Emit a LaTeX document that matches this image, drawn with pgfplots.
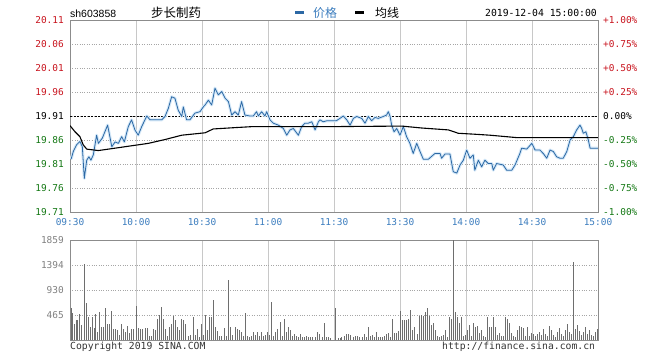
\documentclass[border=0pt]{standalone}
\usepackage{pgfplots}
\usepackage{pgfplotstable}
\pgfplotsset{compat=1.18}
\usepackage{fontspec}
\setmainfont{Liberation Sans}
\setmonofont{DejaVu Sans Mono}
\newfontfamily\cjk{Noto Sans CJK SC}
\definecolor{pblue}{RGB}{44,104,164}
\definecolor{halo}{RGB}{212,232,248}
\definecolor{lred}{RGB}{200,20,30}
\definecolor{lgreen}{RGB}{20,120,20}
\definecolor{tblue}{RGB}{60,125,190}
\definecolor{framec}{RGB}{140,140,140}
\definecolor{gridc}{RGB}{200,200,200}
\definecolor{volc}{RGB}{110,110,110}

\pgfplotstableread{
m p
0.5 19.820
1.5 19.836
3.0 19.850
4.5 19.857
5.6 19.846
6.5 19.780
7.6 19.818
8.6 19.825
9.5 19.818
10.6 19.829
12.1 19.870
12.9 19.853
14.7 19.864
17.1 19.891
19.0 19.846
20.5 19.856
22.0 19.853
23.5 19.867
24.7 19.856
26.5 19.888
28.0 19.902
29.5 19.881
31.0 19.870
32.6 19.888
34.9 19.910
36.4 19.902
38.6 19.902
41.7 19.902
43.2 19.909
44.7 19.926
46.2 19.950
47.7 19.947
49.2 19.922
50.8 19.909
51.5 19.929
53.0 19.902
54.5 19.902
56.8 19.916
59.1 19.919
60.6 19.929
61.4 19.933
62.9 19.943
64.4 19.933
65.9 19.968
67.4 19.954
69.0 19.961
70.5 19.947
72.0 19.940
73.5 19.912
75.0 19.919
76.5 19.912
78.0 19.940
79.5 19.912
81.8 19.910
83.3 19.910
84.8 19.919
85.6 19.910
87.1 19.919
88.6 19.910
89.4 19.919
90.9 19.902
92.4 19.895
94.7 19.891
97.0 19.884
98.5 19.870
100.0 19.881
101.5 19.884
103.8 19.870
105.3 19.888
106.8 19.895
108.3 19.895
109.9 19.898
111.4 19.881
112.9 19.898
113.6 19.902
115.1 19.898
116.7 19.900
119.0 19.900
121.0 19.900
122.7 19.905
124.2 19.910
125.8 19.902
127.3 19.891
128.8 19.905
130.3 19.909
132.6 19.905
134.1 19.895
135.6 19.909
137.1 19.900
138.6 19.907
140.1 19.905
142.4 19.909
143.9 19.912
144.7 19.919
145.5 19.909
146.2 19.891
147.3 19.877
148.5 19.884
150.0 19.870
151.5 19.888
153.0 19.867
154.5 19.853
156.0 19.832
157.6 19.853
159.1 19.836
160.6 19.820
162.9 19.820
165.9 19.832
168.2 19.832
168.9 19.822
170.5 19.831
172.7 19.831
174.2 19.794
175.8 19.791
177.3 19.808
178.8 19.818
180.3 19.839
181.8 19.822
183.3 19.829
184.0 19.797
185.6 19.818
187.1 19.804
188.6 19.818
190.1 19.811
191.7 19.811
192.4 19.797
193.9 19.811
196.9 19.808
198.5 19.797
200.8 19.797
202.3 19.808
204.5 19.832
205.3 19.843
207.6 19.841
209.9 19.853
211.4 19.839
213.6 19.839
215.1 19.832
216.7 19.822
218.2 19.839
219.7 19.836
221.2 19.825
222.7 19.822
224.2 19.822
225.8 19.836
227.3 19.860
228.8 19.867
230.3 19.881
231.8 19.891
232.6 19.884
233.3 19.874
234.5 19.877
235.6 19.860
236.4 19.843
240.0 19.843
}\price

\pgfplotstableread{
m a
0 19.890
2.3 19.877
4.5 19.867
6.0 19.850
7.6 19.841
12.9 19.838
20.5 19.843
35.6 19.853
43.2 19.861
50.8 19.870
61.4 19.875
65.1 19.883
75.8 19.886
83.3 19.888
122.7 19.888
150.8 19.889
159.8 19.885
172.0 19.881
176.5 19.874
184.1 19.872
190.9 19.870
203.0 19.865
224.2 19.865
240.0 19.865
}\avg

\pgfplotstableread{
m v
0.5 589
1.1 508
2.0 291
2.7 372
3.5 372
4.4 477
5.3 279
6.5 1407
7.4 682
8.3 422
9.2 248
10.2 422
11.1 229
11.7 484
12.6 155
13.5 527
14.4 236
15.3 236
16.2 589
17.1 298
18.0 298
18.9 539
19.8 198
20.8 198
21.7 186
22.4 93
23.2 291
24.1 198
25.0 155
26.1 260
27.0 124
28.0 205
28.9 198
30.2 626
31.1 217
32.0 205
33.0 198
34.1 229
35.0 229
35.9 74
36.8 74
38.0 198
38.9 186
39.8 384
40.8 459
41.7 608
42.6 384
43.5 198
44.4 74
45.3 236
46.2 291
47.1 446
48.0 372
48.9 236
49.8 186
50.8 384
51.7 372
52.6 291
53.8 74
54.7 87
55.9 422
56.8 87
57.7 198
58.6 62
59.5 298
60.5 87
61.4 465
62.3 186
63.2 422
64.1 422
65.3 744
66.2 248
67.1 167
68.0 74
68.9 74
70.2 229
71.1 74
72.0 1116
72.9 248
73.8 87
75.0 236
75.9 198
76.8 186
77.7 149
78.6 74
79.5 508
80.5 74
81.4 50
82.3 74
83.2 155
84.1 87
85.0 155
85.9 74
86.8 155
87.7 74
88.6 87
89.5 149
90.5 87
91.7 713
92.6 74
93.5 149
94.4 198
95.6 341
96.5 74
97.4 384
98.3 155
99.2 236
100.2 186
101.1 74
102.0 112
102.9 74
103.8 50
104.7 112
105.6 62
106.5 50
107.4 74
108.3 62
109.2 62
110.2 50
111.4 62
112.3 155
113.5 112
114.7 62
115.6 310
116.5 62
117.4 50
118.3 31
120.5 589
122.0 31
122.7 31
123.5 62
124.5 74
125.5 112
126.5 112
127.6 93
128.8 50
129.7 74
130.6 74
131.5 50
132.7 62
133.6 112
134.8 50
135.8 248
136.7 74
137.6 93
138.5 50
139.4 155
140.3 62
141.2 50
142.1 50
143.0 74
143.9 112
144.8 136
145.8 62
146.7 384
147.6 124
148.5 136
149.4 174
150.3 546
151.2 372
152.1 372
153.0 372
153.9 384
154.9 558
155.8 186
156.7 248
157.9 112
158.8 446
159.7 465
160.6 446
161.5 527
162.4 589
163.3 446
164.2 279
165.2 322
166.1 186
167.0 74
167.9 62
168.8 74
169.7 93
170.6 186
171.5 62
172.4 422
173.3 384
174.4 1859
175.3 527
176.2 422
177.1 322
178.0 422
178.9 74
179.8 87
180.8 186
181.7 279
182.6 74
183.5 322
184.4 236
185.3 260
186.2 124
187.1 186
188.0 74
188.9 62
189.8 422
190.7 248
191.7 248
192.6 434
193.5 248
194.4 93
195.3 136
196.2 74
197.1 74
198.0 421
198.9 384
199.8 322
200.8 136
201.7 74
202.6 62
203.5 186
204.4 260
205.3 248
206.2 217
207.1 74
208.0 236
208.9 74
209.8 136
210.8 112
211.7 74
212.6 112
213.5 150
214.4 90
215.3 200
216.2 120
217.1 74
218.0 260
218.9 180
219.8 100
220.8 62
221.7 150
222.6 230
223.5 110
224.4 74
225.3 186
226.2 300
227.1 150
228.0 120
229.0 1457
229.9 200
230.8 280
231.7 160
232.6 90
233.5 140
234.4 250
235.3 120
236.2 180
237.1 100
238.0 74
238.9 150
239.8 200
}\vol

\begin{document}
\begin{tikzpicture}[x=1bp,y=1bp]
\path[use as bounding box] (0,0) rectangle (660,360);
% price axis
\begin{axis}[at={(70bp,148bp)}, anchor=south west, width=528bp, height=192bp, scale only axis,
  xmin=0, xmax=240, ymin=19.71, ymax=20.11,
  xtick={0,30,60,90,120,150,180,210,240},
  xticklabels={09:30,10:00,10:30,11:00,11:30,13:30,14:00,14:30,15:00},
  ytick={19.71,19.76,19.81,19.86,19.91,19.96,20.01,20.06,20.11},
  yticklabels={\textcolor{lgreen}{19.71},\textcolor{lgreen}{19.76},\textcolor{lgreen}{19.81},\textcolor{lgreen}{19.86},\textcolor{black}{19.91},\textcolor{lred}{19.96},\textcolor{lred}{20.01},\textcolor{lred}{20.06},\textcolor{lred}{20.11}},
  major tick length=0pt,
  ticklabel style={font=\ttfamily\fontsize{9.5}{10}\selectfont, inner sep=0pt},
  xticklabel style={tblue, yshift=-6bp},
  yticklabel style={xshift=-6bp},
  xmajorgrids, ymajorgrids,
  x grid style={gridc, line width=0.6bp},
  y grid style={gray!70, dotted, line width=0.6bp},
  axis line style={framec, line width=0.8bp},
  axis on top=false,
]
\addplot[black, line width=0.7bp, dash pattern=on 2bp off 1.5bp] coordinates {(0,19.91) (240,19.91)};
\addplot[halo, line width=3bp, line join=round] table[x=m, y=p] {\price};
\addplot[pblue, line width=0.8bp, line join=round] table[x=m, y=p] {\price};
\addplot[black, line width=1.1bp] table[x=m, y=a] {\avg};
\end{axis}
% right percent axis
\begin{axis}[at={(70bp,148bp)}, anchor=south west, width=528bp, height=192bp, scale only axis,
  xmin=0, xmax=240, ymin=-1, ymax=1,
  axis y line*=right, axis x line=none,
  ytick={-1,-0.75,-0.5,-0.25,0,0.25,0.5,0.75,1},
  yticklabels={\textcolor{lgreen}{-1.00\%},\textcolor{lgreen}{-0.75\%},\textcolor{lgreen}{-0.50\%},\textcolor{lgreen}{-0.25\%},\textcolor{black}{0.00\%},\textcolor{lred}{+0.25\%},\textcolor{lred}{+0.50\%},\textcolor{lred}{+0.75\%},\textcolor{lred}{+1.00\%}},
  major tick length=0pt,
  ticklabel style={font=\ttfamily\fontsize{9.5}{10}\selectfont, inner sep=0pt},
  yticklabel style={xshift=5bp},
  axis line style={framec, line width=0.8bp},
]
\addplot[draw=none] coordinates {(0,0) (240,0)};
\end{axis}
% volume axis
\begin{axis}[at={(70bp,20bp)}, anchor=south west, width=528bp, height=100bp, scale only axis,
  xmin=0, xmax=240, ymin=0, ymax=1859,
  xtick={0,30,60,90,120,150,180,210,240}, xticklabels={},
  ytick={465,930,1394,1859},
  yticklabels={465,930,1394,1859},
  major tick length=0pt,
  ticklabel style={font=\ttfamily\fontsize{9.5}{10}\selectfont, inner sep=0pt, gray},
  yticklabel style={xshift=-6bp},
  xmajorgrids, ymajorgrids,
  x grid style={gridc, line width=0.6bp},
  y grid style={gray!70, dotted, line width=0.6bp},
  axis line style={framec, line width=0.8bp},
]
\addplot[ycomb, volc, line width=0.7bp, mark=none] table[x=m, y=v] {\vol};
\end{axis}
% header texts
\node[anchor=base west, inner sep=0pt, font=\fontsize{10.5}{12}\selectfont] at (70,343) {sh603858};
\node[anchor=base west, inner sep=0pt, font=\cjk\fontsize{12.5}{14}\selectfont] at (151,343) {步长制药};
\node[anchor=base west, inner sep=0pt, font=\cjk\fontsize{12}{14}\selectfont, text=tblue] at (295,343) {\textcolor{pblue}{\rule[3bp]{9bp}{3bp}}\hspace{9bp}价格};
\node[anchor=base west, inner sep=0pt, font=\cjk\fontsize{12}{14}\selectfont] at (355,343) {\rule[3bp]{9bp}{3bp}\hspace{11bp}均线};
\node[anchor=base east, inner sep=0pt, font=\ttfamily\fontsize{9.8}{11}\selectfont] at (597,344) {2019-12-04 15:00:00};
% footer texts
\node[anchor=base west, inner sep=0pt, font=\ttfamily\fontsize{9.8}{11}\selectfont, text=black!80] at (70,11) {Copyright 2019 SINA.COM};
\node[anchor=base west, inner sep=0pt, font=\ttfamily\fontsize{9.8}{11}\selectfont, text=black!80] at (442,11) {http://finance.sina.com.cn};
\end{tikzpicture}
\end{document}
